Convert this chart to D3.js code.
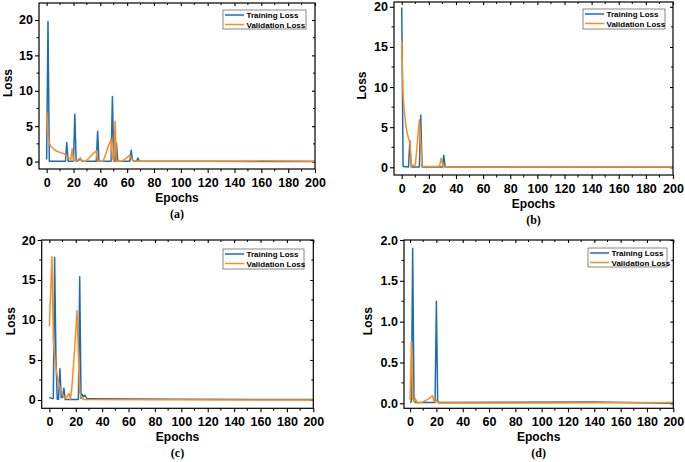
<!DOCTYPE html>
<html><head><meta charset="utf-8">
<script src="https://cdn.jsdelivr.net/npm/d3@7"></script>
<style>body{margin:0;background:#fff}svg{display:block}</style>
</head><body>
<svg id="chart" width="685" height="462"></svg>
<script>
// ---------- data ----------
const epochTicks = [0,20,40,60,80,100,120,140,160,180,200];
const seriesNames = ["Training Loss","Validation Loss"];
const panelLabels = ["(a)","(b)","(c)","(d)"];
const yTicksA = [0,5,10,15,20];
const yTicksB = [0,5,10,15,20];
const yTicksC = [0,5,10,15,20];
const yTicksD = [0,0.5,1.0,1.5,2.0];

const trainEpochsA = [0,1,2,14,15,16,20,21,22,24,25,26,27,37,38,39,48,49,50,51,52,53,62,63,64,65,67,68,69,70,120,200];
const trainLossA   = [0.3,19.8,0.05,0.05,2.7,0.05,0.05,6.7,0.05,0.2,0.5,0.1,0.05,0.05,4.3,0.05,0.05,9.2,0.05,0.05,2.6,0.05,0.05,1.6,0.2,0.05,0.05,0.5,0.1,0.05,0.03,0.02];
const valEpochsA   = [0,1,2,3,5,7,10,13,14,15,16,17,18,19,20,21,22,24,25,26,27,29,31,33,35,37,38,42,44,46,48,49,50,51,52,56,58,60,62,63,64,66,120,160,200];
const valLossA     = [7.0,3.6,2.6,2.2,1.8,1.5,1.3,1.1,0.95,0.7,0.55,0.5,0.3,1.8,0.1,0.2,0.15,0.35,0.45,0.2,0.05,0.05,0.4,0.8,1.2,1.5,0.05,0.05,1.0,2.2,3.1,0.5,0.05,5.7,0.05,0.05,0.3,0.6,0.9,0.6,0.2,0.05,0.05,0.1,0.05];

const trainEpochsB = [0,1,5,6,7,13,14,15,30,31,32,200];
const trainLossB   = [19.9,0.1,0.05,3.3,0.05,0.05,6.5,0.05,0.05,1.5,0.03,0.02];
const valEpochsB   = [0,1,2,3,4,5,6,7,8,9,10,11,12,13,14,15,27,28,29,30,31,200];
const valLossB     = [15.7,9.0,6.8,5.3,4.3,3.6,3.1,0.1,0.3,0.2,0.3,2.0,4.0,5.9,3.0,0.1,0.1,0.2,1.1,0.4,0.03,0.03];

const trainEpochsC = [0,1,2,3,4,5,6,7,8,9,10,11,12,22,23,24,25,26,27,28,29,30,100,200];
const trainLossC   = [0.3,0.25,0.2,0.2,17.8,5.0,0.1,0.1,3.9,0.3,0.3,1.5,0.05,0.05,15.4,0.2,0.7,0.4,0.6,0.25,0.15,0.15,0.1,0.05];
const valEpochsC   = [0,2,3,4,5,6,7,8,9,10,11,12,13,14,15,16,17,18,19,20,21,22,23,24,25,26,200];
const valLossC     = [9.2,17.9,7.5,5.3,4.0,3.0,2.2,1.6,1.1,0.7,0.4,0.15,0.3,0.6,0.8,0.1,1.4,3.7,6.0,8.5,11.2,5.5,0.9,0.5,0.2,0.05,0.0];

const trainEpochsD = [0,1,2,3,4,19,20,21,22,140,200];
const trainLossD   = [0.01,0.02,1.9,0.05,0.01,0.01,1.25,0.02,0.01,0.015,0.0];
const valEpochsD   = [0,1,2,3,4,5,6,8,10,12,14,16,17,18,19,20,21,22,100,200];
const valLossD     = [0.04,0.76,0.05,0.02,0.06,0.02,0.005,0.01,0.02,0.035,0.055,0.08,0.095,0.03,0.02,0.04,0.01,0.005,0.005,0.01];

// ---------- layout ----------
const colors = ["#1f6db1", "#ff8c1a"];
const panels = [
  {label:panelLabels[0], yTicks:yTicksA, yMinor:2.5, fmt:d3.format("d"),
   frame:{l:39,r:315,t:3,b:169}, xDom:[-5.7,200], yDom:[-1.05,22.4],
   leg:{x:223,y:10,w:83,h:19}, titleX:-31,
   series:[[trainEpochsA,trainLossA],[valEpochsA,valLossA]]},
  {label:panelLabels[1], yTicks:yTicksB, yMinor:2.5, fmt:d3.format("d"),
   frame:{l:394,r:673,t:2,b:175}, xDom:[-5.7,200], yDom:[-0.96,20.6],
   leg:{x:583,y:9,w:82,h:20}, titleX:-32,
   series:[[trainEpochsB,trainLossB],[valEpochsB,valLossB]]},
  {label:panelLabels[2], yTicks:yTicksC, yMinor:2.5, fmt:d3.format("d"),
   frame:{l:41.7,r:313.3,t:240,b:408.3}, xDom:[-5.8,200], yDom:[-1.04,20],
   leg:{x:223,y:249,w:81,h:20}, titleX:-31,
   series:[[trainEpochsC,trainLossC],[valEpochsC,valLossC]]},
  {label:panelLabels[3], yTicks:yTicksD, yMinor:0.25, fmt:d3.format(".1f"),
   frame:{l:404,r:673.3,t:240,b:408.3}, xDom:[-4.6,200], yDom:[-0.061,2.0],
   leg:{x:588,y:248,w:79,h:19}, titleX:-36,
   series:[[trainEpochsD,trainLossD],[valEpochsD,valLossD]]}
];

const svg = d3.select("#chart");
const font = "'Liberation Sans', Arial, sans-serif";

panels.forEach(p => {
  const f = p.frame;
  const x = d3.scaleLinear().domain(p.xDom).range([f.l, f.r]);
  const y = d3.scaleLinear().domain(p.yDom).range([f.b, f.t]);
  const g = svg.append("g");

  const xMinor = d3.range(10, 200, 20);
  const yMax = p.yTicks[p.yTicks.length-1];
  const yMinor = d3.range(p.yMinor, yMax, p.yMinor*2).filter(v => v < p.yDom[1]);

  // bottom axis
  const bottom = d3.axisBottom(x).tickValues(epochTicks).tickSize(4).tickPadding(2).tickFormat(d3.format("d"));
  const gb = g.append("g").attr("transform", `translate(0,${f.b})`).call(bottom);
  // left axis
  const left = d3.axisLeft(y).tickValues(p.yTicks).tickSize(4).tickPadding(2).tickFormat(p.fmt);
  const gl = g.append("g").attr("transform", `translate(${f.l},0)`).call(left);
  [gb, gl].forEach(a => {
    a.select(".domain").remove();
    a.selectAll(".tick line").attr("stroke","#000").attr("stroke-width",1.1);
    a.selectAll("text").attr("font-family", font).attr("font-weight","bold")
      .attr("font-size","12.5px").attr("fill","#000");
  });
  gb.selectAll("text").attr("dy","0.95em");
  // minor ticks
  g.append("g").selectAll("line").data(xMinor).join("line")
    .attr("x1", d=>x(d)).attr("x2", d=>x(d)).attr("y1", f.b).attr("y2", f.b+2.5)
    .attr("stroke","#000").attr("stroke-width",1);
  g.append("g").selectAll("line").data(yMinor).join("line")
    .attr("y1", d=>y(d)).attr("y2", d=>y(d)).attr("x1", f.l).attr("x2", f.l-2.5)
    .attr("stroke","#000").attr("stroke-width",1);
  // mirror ticks top/right (inward)
  const top = d3.axisBottom(x).tickValues(epochTicks).tickSize(3).tickFormat("");
  const gt = g.append("g").attr("transform", `translate(0,${f.t})`).call(top);
  const right = d3.axisRight(y).tickValues(p.yTicks).tickSize(-3).tickFormat("");
  const gr = g.append("g").attr("transform", `translate(${f.r},0)`).call(right);
  [gt, gr].forEach(a => { a.select(".domain").remove(); a.selectAll(".tick line").attr("stroke","#000").attr("stroke-width",1.1); });
  g.append("g").selectAll("line").data(xMinor).join("line")
    .attr("x1", d=>x(d)).attr("x2", d=>x(d)).attr("y1", f.t).attr("y2", f.t+2)
    .attr("stroke","#000").attr("stroke-width",1);
  g.append("g").selectAll("line").data(yMinor).join("line")
    .attr("y1", d=>y(d)).attr("y2", d=>y(d)).attr("x1", f.r).attr("x2", f.r-2)
    .attr("stroke","#000").attr("stroke-width",1);

  // lines
  const clipId = "clip" + p.label.replace(/\W/g,"");
  g.append("clipPath").attr("id", clipId).append("rect")
    .attr("x", f.l).attr("y", f.t).attr("width", f.r-f.l).attr("height", f.b-f.t);
  const line = d3.line().x(d=>x(d[0])).y(d=>y(d[1]));
  p.series.forEach((s, i) => {
    const pts = s[0].map((e, k) => [e, s[1][k]]);
    g.append("path").datum(pts).attr("d", line).attr("fill","none")
      .attr("stroke", colors[i]).attr("stroke-width",1.5).attr("stroke-linejoin","round")
      .attr("clip-path", `url(#${clipId})`);
  });

  // frame
  g.append("rect").attr("x", f.l).attr("y", f.t).attr("width", f.r-f.l).attr("height", f.b-f.t)
    .attr("fill","none").attr("stroke","#000").attr("stroke-width",1.2);

  // legend
  const L = p.leg;
  const lg = g.append("g");
  lg.append("rect").attr("x", L.x).attr("y", L.y).attr("width", L.w).attr("height", L.h)
    .attr("fill","#fff").attr("stroke","#555").attr("stroke-width",0.7);
  seriesNames.forEach((n, i) => {
    const yy = L.y + 5 + i*9.5;
    lg.append("line").attr("x1", L.x+2).attr("x2", L.x+21).attr("y1", yy).attr("y2", yy)
      .attr("stroke", colors[i]).attr("stroke-width",1.5);
    lg.append("text").attr("x", L.x+23.5).attr("y", yy+3).text(n)
      .attr("font-family", font).attr("font-weight","bold").attr("font-size","8px").attr("fill","#000");
  });

  // titles
  const cx = (f.l + f.r)/2;
  g.append("text").attr("x", cx).attr("y", f.b + 33).attr("text-anchor","middle").text("Epochs")
    .attr("font-family", font).attr("font-weight","bold").attr("font-size","12px");
  g.append("text").attr("transform", `translate(${f.l + p.titleX},${(f.t+f.b)/2 - 3}) rotate(-90)`)
    .attr("text-anchor","middle").attr("dy","0.35em").text("Loss")
    .attr("font-family", font).attr("font-weight","bold").attr("font-size","12px");
  g.append("text").attr("x", cx).attr("y", f.b + 48.5).attr("text-anchor","middle").text(p.label)
    .attr("font-family", "'Liberation Serif', 'Times New Roman', serif").attr("font-weight","bold").attr("font-size","12px");
});
</script>
</body></html>
